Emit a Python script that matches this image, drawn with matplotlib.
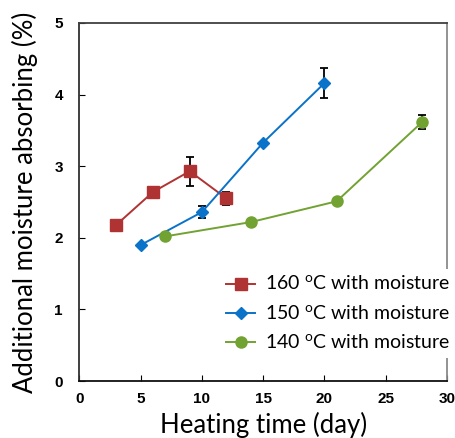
import matplotlib
matplotlib.use('Agg')
import matplotlib.pyplot as plt

plt.rcParams['mathtext.fontset'] = 'custom'
plt.rcParams['mathtext.rm'] = 'Lato'

# 160 C
days160 = [3, 6, 9, 12]
abs160 = [2.18, 2.64, 2.93, 2.55]
err160 = [0, 0, 0.20, 0.09]
# 150 C
days150 = [5, 10, 15, 20]
abs150 = [1.90, 2.36, 3.33, 4.16]
err150 = [0, 0.08, 0, 0.21]
# 140 C
days140 = [7, 14, 21, 28]
abs140 = [2.02, 2.22, 2.51, 3.62]
err140 = [0, 0, 0, 0.10]

labels = ['160 $^{\\mathrm{o}}$C with moisture',
          '150 $^{\\mathrm{o}}$C with moisture',
          '140 $^{\\mathrm{o}}$C with moisture']
xticks = [0, 5, 10, 15, 20, 25, 30]
yticks = [0, 1, 2, 3, 4, 5]

fig = plt.figure(figsize=(4.56, 4.38), dpi=100)
ax = fig.add_axes([0.1743, 0.130, 0.8057, 0.8175])

series = [
    (days160, abs160, err160, '#B03333', 's', 8.5),
    (days150, abs150, err150, '#0A72C8', 'D', 6.5),
    (days140, abs140, err140, '#72A232', 'o', 8),
]
handles = []
for (x, y, e, c, mk, ms), lab in zip(series, labels):
    ax.errorbar(x, y, yerr=e, fmt='none', ecolor='black', elinewidth=1.3,
                capsize=3, capthick=1.3, zorder=2)
    h, = ax.plot(x, y, color=c, marker=mk, markersize=ms, linewidth=1.4,
                 label=lab, zorder=3)
    handles.append(h)

ax.set_xlim(0, 30)
ax.set_ylim(0, 5)
ax.set_xticks(xticks)
ax.set_yticks(yticks)
ax.tick_params(direction='in', length=4, width=0.8, pad=8)
for t in ax.get_xticklabels() + ax.get_yticklabels():
    t.set_fontfamily('Liberation Sans')
    t.set_fontweight('bold')
    t.set_fontsize(11)
ax.tick_params(axis='y', pad=12)

ax.spines['left'].set_color('#303030')
ax.spines['bottom'].set_color('#101010')
ax.spines['top'].set_color('#404040')
ax.spines['right'].set_color('#8a8a8a')
for s in ax.spines.values():
    s.set_linewidth(1.3)

ax.set_xlabel('Heating time (day)', fontfamily='Lato', fontsize=18.5, labelpad=4)
ax.set_ylabel('Additional moisture absorbing (%)', fontfamily='Lato', fontsize=18.5, labelpad=12)

leg = fig.legend(handles=handles, loc='upper left', bbox_to_anchor=(0.483, 0.386),
                 frameon=True, fancybox=False, edgecolor='none', facecolor='white',
                 framealpha=1, prop={'family': 'Lato', 'size': 14},
                 handlelength=1.5, handletextpad=0.5, labelspacing=0.55,
                 borderaxespad=0, borderpad=0.3)

fig.savefig('out.png', dpi=100)
